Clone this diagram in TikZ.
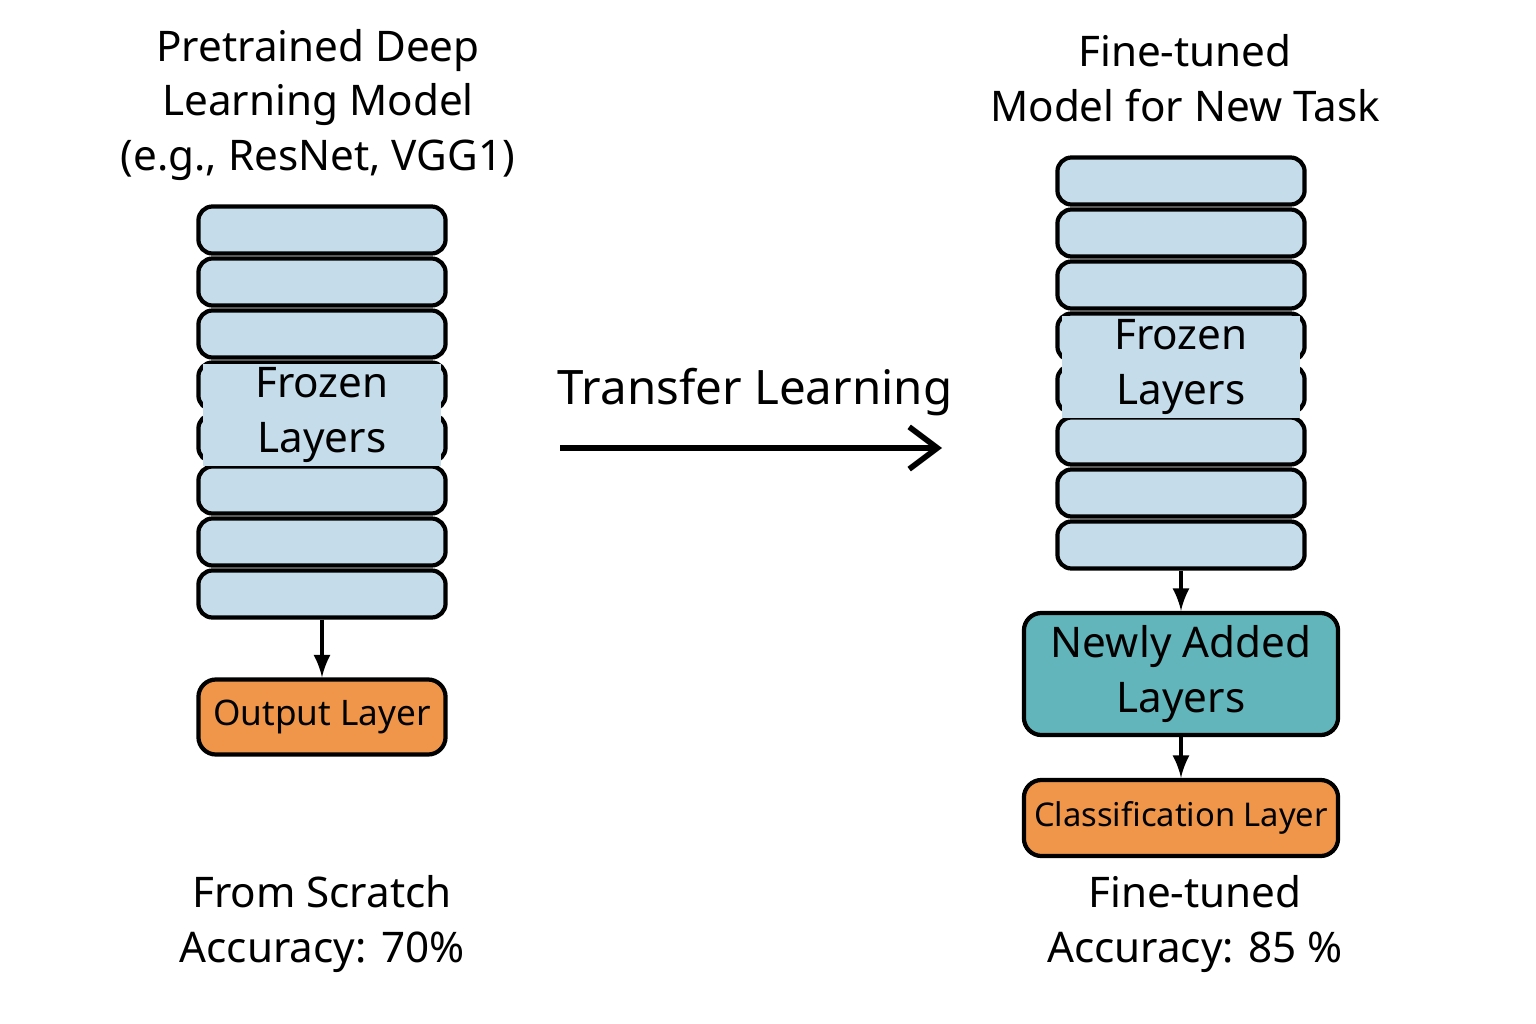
\documentclass[tikz,border=0pt]{standalone}
\usepackage{fontspec}
\setmainfont{Noto Sans}
\usetikzlibrary{positioning,arrows.meta}
\definecolor{layerblue}{HTML}{C5DDEB}
\definecolor{outorange}{HTML}{F0964A}
\definecolor{newteal}{HTML}{62B6BB}
\tikzset{
  layer/.style={draw,line width=1.2pt,rounded corners=4pt,fill=layerblue,minimum width=2.47cm,minimum height=0.47cm,inner sep=0pt},
  outbox/.style={draw,line width=1.2pt,rounded corners=5pt,fill=outorange,inner sep=0pt},
  label/.style={align=center,font=\fontsize{12}{15.5}\selectfont},
  flow/.style={-latex,line width=1.2pt}
}
\begin{document}
\begin{tikzpicture}[x=0.01cm,y=-0.01cm]
\useasboundingbox (0,0) rectangle (1536,1024);
\node[label] (lefttitle) at (318,105) {Pretrained Deep\\Learning Model\\(e.g., ResNet, VGG1)};
\node[label] (righttitle) at (1185,78) {Fine-tuned\\Model for New Task};
\foreach \i in {1,...,8}{
\node[layer] (L\i) at (322,{230+(\i-1)*52}) {};
\node[layer] (R\i) at (1181,{181+(\i-1)*52}) {};
}
\node[label,fill=layerblue,inner sep=1pt,text width=2.3cm] (lfrozen) at (322,415) {Frozen\\Layers};
\node[label,fill=layerblue,inner sep=1pt,text width=2.3cm] (rfrozen) at (1181,367) {Frozen\\Layers};
\node[outbox,minimum width=2.47cm,minimum height=0.75cm,font=\fontsize{10}{12}\selectfont] (lout) at (322,717) {Output Layer};
\node[outbox,fill=newteal,minimum width=3.14cm,minimum height=1.22cm,label,align=center] (rnew) at (1181,674) {Newly Added\\Layers};
\node[outbox,minimum width=3.14cm,minimum height=0.76cm,font=\fontsize{9.3}{11}\selectfont] (rcls) at (1181,818) {Classification Layer};
\draw[flow] (L8) -- (lout);
\draw[flow] (R8) -- (rnew);
\draw[flow] (rnew) -- (rcls);
\coordinate (tstart) at (560,448);
\coordinate (tend) at (942,448);
\draw[-{Straight Barb[length=8pt,width=12pt]},line width=1.6pt] (tstart) -- (tend);
\node[label,font=\fontsize{13.5}{16}\selectfont] (tlabel) at (755,392) {Transfer Learning};
\node[label] (lacc) at (322,924) {From Scratch\\Accuracy: 70\%};
\node[label] (racc) at (1195,924) {Fine-tuned\\Accuracy: 85 \%};
\end{tikzpicture}
\end{document}
